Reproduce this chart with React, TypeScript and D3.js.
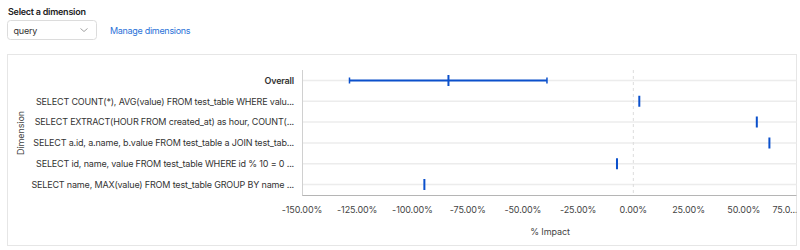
import React from "react";
import * as d3 from "d3";

const categories = [
  "Overall",
  "SELECT COUNT(*), AVG(value) FROM test_table WHERE valu...",
  "SELECT EXTRACT(HOUR FROM created_at) as hour, COUNT(...",
  "SELECT a.id, a.name, b.value FROM test_table a JOIN test_tab...",
  "SELECT id, name, value FROM test_table WHERE id % 10 = 0 ...",
  "SELECT name, MAX(value) FROM test_table GROUP BY name ...",
];
const impactMean = [-83.7, 2.7, 55.9, 61.6, -7.4, -94.6];
const impactLow = [-128.5, null, null, null, null, null];
const impactHigh = [-39.1, null, null, null, null, null];
const tickValues = [-150, -125, -100, -75, -50, -25, 0, 25, 50, 75];
const tickLabels = ["-150.00%", "-125.00%", "-100.00%", "-75.00%", "-50.00%", "-25.00%", "0.00%", "25.00%", "50.00%", "75.0..."];

const FONT = "Inter, 'Noto Sans', sans-serif";
const BLUE = "#0b50cc";

export default function App() {
  const x = d3.scaleLinear().domain([-150, 75]).range([302, 799]);
  const y = d3.scaleBand().domain(categories).range([70, 195]).padding(0);
  const cy = (c: string) => (y(c) as number) + y.bandwidth() / 2;

  return (
    <div style={{ position: "absolute", left: 0, top: 0 }}>
      <svg width={800} height={250} style={{ display: "block", fontFamily: FONT }}>
        <defs>
          <clipPath id="panel">
            <rect x={8} y={54} width={788.5} height={192} />
          </clipPath>
        </defs>
        <rect width={800} height={250} fill="#fff" />
        <text x={8} y={14.5} fontSize={9} fontWeight={600} letterSpacing={-0.25} fill="#222">Select a dimension</text>
        <rect x={7.5} y={20.5} width={89} height={19} rx={3} fill="#fff" stroke="#dcdcdc" />
        <text x={13.5} y={33.5} fontSize={9} letterSpacing={-0.2} fill="#333">query</text>
        <path d="M80.5,28.5 L84,31.5 L87.5,28.5" fill="none" stroke="#999" strokeWidth={0.9} />
        <text x={110} y={33.5} fontSize={9} letterSpacing={-0.3} fill="#2a72d8">Manage dimensions</text>

        <rect x={7.5} y={54.5} width={789} height={191} fill="#fff" stroke="#e6e6e6" />

        <g clipPath="url(#panel)">
          {categories.map((c) => (
            <line key={"g" + c} x1={302} x2={799} y1={cy(c)} y2={cy(c)} stroke="#ececec" strokeWidth={1.5} />
          ))}
          <line x1={x(0)} x2={x(0)} y1={70} y2={195} stroke="#dcdcdc" strokeDasharray="3,3" />
          <line x1={302} x2={799} y1={195.5} y2={195.5} stroke="#b5b5b5" />
          <line x1={302.5} x2={302.5} y1={70} y2={195.5} stroke="#d0d0d0" />
          {categories.map((c, i) => {
            const yc = cy(c);
            const lo = impactLow[i];
            const hi = impactHigh[i];
            return (
              <g key={"m" + c}>
                {lo != null && hi != null && (
                  <g>
                    <line x1={x(lo)} x2={x(hi)} y1={yc} y2={yc} stroke={BLUE} strokeWidth={2} />
                    <line x1={x(lo)} x2={x(lo)} y1={yc - 3} y2={yc + 3} stroke={BLUE} strokeWidth={1.5} />
                    <line x1={x(hi)} x2={x(hi)} y1={yc - 3} y2={yc + 3} stroke={BLUE} strokeWidth={1.5} />
                  </g>
                )}
                <line x1={x(impactMean[i])} x2={x(impactMean[i])} y1={yc - 5.5} y2={yc + 5.5} stroke={BLUE} strokeWidth={2} />
              </g>
            );
          })}
          {tickValues.map((v, i) => (
            <text key={"t" + v} x={i === tickValues.length - 1 ? 785 : x(v)} y={212.5} fontSize={9} letterSpacing={-0.1} fill="#444" textAnchor="middle">
              {tickLabels[i]}
            </text>
          ))}
        </g>

        {categories.map((c, i) => (
          <text key={"l" + c} x={294} y={cy(c) + 3.3} fontSize={9} letterSpacing={-0.17} fontWeight={i === 0 ? 600 : 400} fill="#333" textAnchor="end">
            {c}
          </text>
        ))}
        <text transform={`translate(24,133) rotate(-90)`} fontSize={9} letterSpacing={-0.1} fill="#444" textAnchor="middle">Dimension</text>
        <text x={550} y={235} fontSize={9} letterSpacing={-0.1} fill="#444" textAnchor="middle">% Impact</text>
      </svg>
    </div>
  );
}
